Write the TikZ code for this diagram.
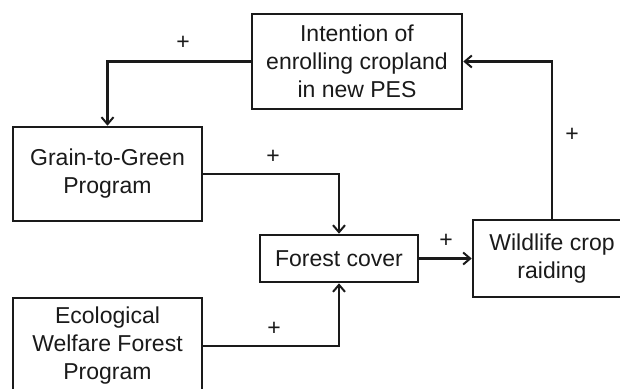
\documentclass[tikz,border=0pt]{standalone}
\usepackage{fontspec}
\setmainfont{Liberation Sans}
\usetikzlibrary{arrows.meta}
\definecolor{ink}{HTML}{1A1A1A}
\begin{document}
\begin{tikzpicture}[x=1pt,y=-1pt,
  box/.style={draw=ink,line width=2.6pt,inner sep=0pt,align=center,text=ink,
    font=\fontsize{23}{28}\selectfont},
  link/.style={draw=ink,line width=2.6pt,-{Straight Barb[length=7pt,width=12pt,line width=2pt]}},
  sign/.style={text=ink,font=\fontsize{23}{28}\selectfont,inner sep=0pt}]
\clip (0,0) rectangle (620,388);
\fill[white] (0,0) rectangle (620,388);
\node[box,minimum width=210pt,minimum height=95pt] (int) at (357,61.5) {Intention of\\enrolling cropland\\in new PES};
\node[box,minimum width=189pt,minimum height=94pt] (ggp) at (107.5,174) {Grain-to-Green\\Program};
\node[box,minimum width=158pt,minimum height=47pt] (fc) at (339,258.5) {Forest cover};
\node[box,minimum width=158pt,minimum height=77pt] (wcr) at (552,258.5) {Wildlife crop\\raiding};
\node[box,minimum width=189pt,minimum height=96pt] (ewf) at (107.5,346) {Ecological\\Welfare Forest\\Program};
\draw[link] (int.west) -| (ggp.north);
\draw[link] (ggp.east) -| (fc.north);
\draw[link] (ewf.east) -| (fc.south);
\draw[link] (fc.east) -- (wcr.west);
\draw[link] (wcr.north) |- (int.east);
\node[sign] (p1) at (183,43) {+};
\node[sign] (p2) at (273,157) {+};
\node[sign] (p3) at (274,329) {+};
\node[sign] (p4) at (446,241) {+};
\node[sign] (p5) at (572,135) {+};
\end{tikzpicture}
\end{document}
